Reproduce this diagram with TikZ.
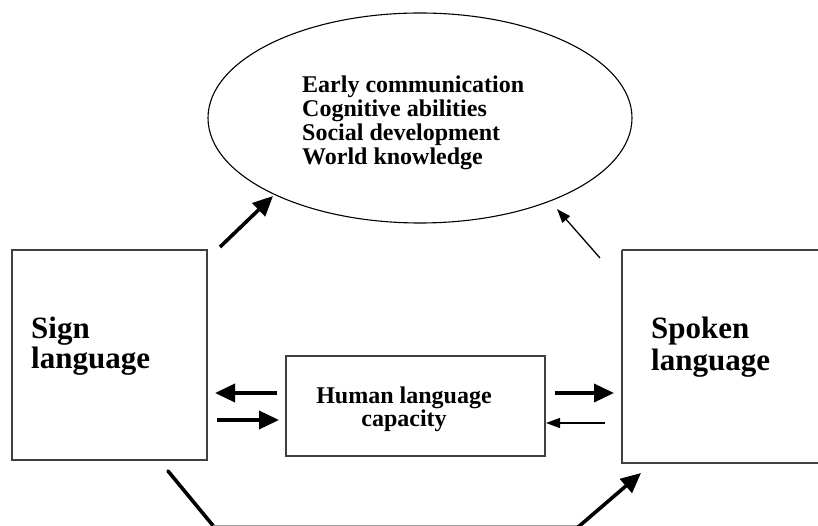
\documentclass[tikz,border=0pt]{standalone}
\usepackage{fontspec}
\setmainfont{Liberation Serif}
\usetikzlibrary{arrows.meta,shapes.geometric,calc}
\begin{document}
\begin{tikzpicture}[x=1pt,y=-1pt,
  box/.style={draw=black!75,line width=1.4pt,inner sep=0pt},
  lbl/.style={font=\bfseries,inner sep=0pt},
  thickarr/.style={line width=3.6pt,-{Triangle[length=20pt,width=18pt]}},
  thinarr/.style={line width=1.3pt,-{Triangle[length=14pt,width=10pt]}},
  thickline/.style={line width=3.6pt,line cap=round},
]
\useasboundingbox (0,0) rectangle (818,526);
% ellipse
\node[draw,line width=1.1pt,ellipse,minimum width=424pt,minimum height=210pt,inner sep=0pt] (goal) at (420,118) {};
\node[lbl,align=left,anchor=base west,font=\bfseries\fontsize{24}{24}\selectfont] (goaltext) at (302,165)
  {Early communication\\Cognitive abilities\\Social development\\World knowledge};
% boxes
\draw[box] (12,250) rectangle (207,460);
\node[inner sep=0pt] (sign) at (109.5,355) {};
\draw[box] (622,250) -- (830,250) (622,250) -- (622,463) -- (830,463);
\node[inner sep=0pt] (spoken) at (720,356) {};
\draw[box] (286,356) rectangle (545,456);
\node[inner sep=0pt] (hlc) at (415.5,406) {};
\node[lbl,align=left,anchor=base west,font=\bfseries\fontsize{31}{30}\selectfont] (signtext) at (31,368) {Sign\\language};
\node[lbl,align=left,anchor=base west,font=\bfseries\fontsize{31}{32}\selectfont] (spokentext) at (651,370) {Spoken\\language};
\node[lbl,align=center,anchor=base,font=\bfseries\fontsize{24}{23}\selectfont] (hlctext) at (404,426) {Human language\\capacity};
% short arrows
\coordinate (a1s) at (277,393); \coordinate (a1e) at (215,393);
\coordinate (a2s) at (217,420); \coordinate (a2e) at (279,420);
\coordinate (a3s) at (555,393); \coordinate (a3e) at (614,393);
\coordinate (a4s) at (605,423); \coordinate (a4e) at (546,423);
\draw[thickarr] (a1s) -- (a1e);
\draw[thickarr] (a2s) -- (a2e);
\draw[thickarr] (a3s) -- (a3e);
\draw[thinarr] (a4s) -- (a4e);
% diagonal arrows to ellipse
\coordinate (d1s) at (220,247); \coordinate (d1e) at (273,196);
\coordinate (d2s) at (600,258); \coordinate (d2e) at (557,209);
\draw[thickarr] (d1s) -- (d1e);
\draw[thinarr] (d2s) -- (d2e);
% bottom
\coordinate (b1) at (168,471);
\coordinate (b2) at (215,528);
\coordinate (b3) at (577,528);
\coordinate (b4) at (641,473);
\draw[thickline] (b1) -- (b2);
\draw[black!40,line width=0.8pt] (213,525.5) -- (579,525.5);
\draw[thickarr] (b3) -- (b4);
\end{tikzpicture}
\end{document}
